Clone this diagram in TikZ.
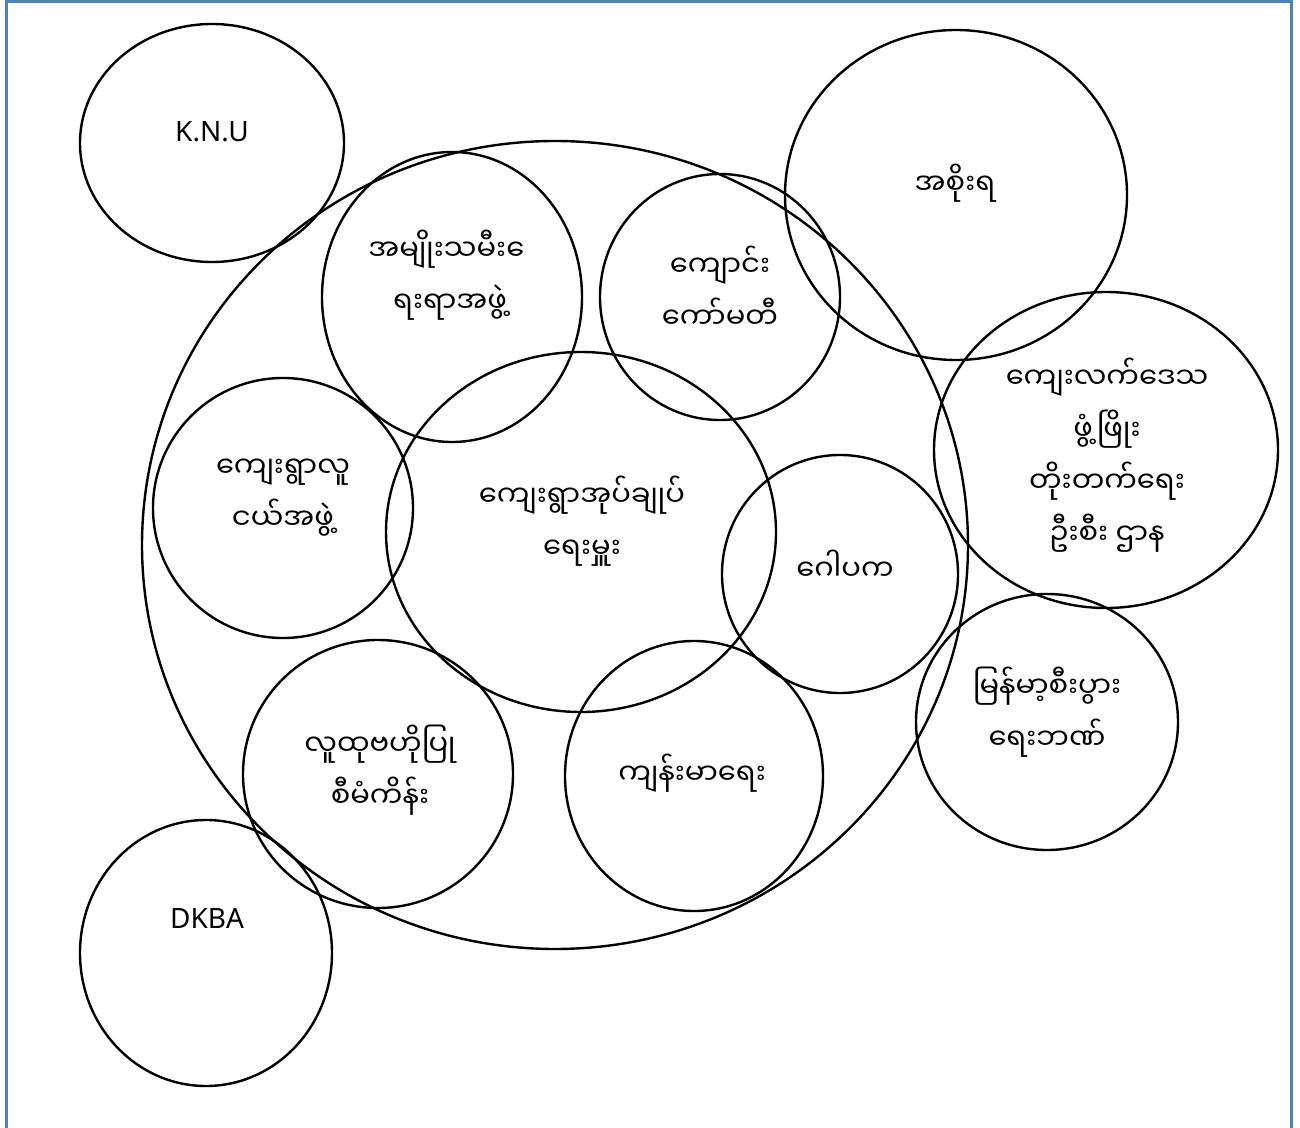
\documentclass[tikz,border=0pt]{standalone}
\usepackage{fontspec}
\setmainfont{Noto Sans}
\newfontfamily\mmfont[Script=Myanmar]{Noto Sans Myanmar UI}
\usetikzlibrary{shapes.geometric}
\definecolor{frameblue}{RGB}{79,129,189}

\begin{document}
\begin{tikzpicture}[
    x=0.5pt, y=-0.5pt,
    ring/.style 2 args={ellipse, draw, line width=1.2pt, inner sep=0pt,
        minimum width = #1pt, minimum height = #2pt},
    mm/.style={font=\mmfont\fontsize{14.5pt}{26pt}\selectfont, align=center, inner sep=0pt},
    latin/.style={font=\fontsize{14pt}{17pt}\selectfont, inner sep=0pt}
]
    \useasboundingbox (0,0) rectangle (1300,1128);

    % Frame ------------------------------------------------------

    \draw[frameblue, line width=1.5pt] (6,1130) -- (6,1.5) -- (1291,1.5) -- (1291,1130);

    % Rings ------------------------------------------------------

    \node[ring={132}{119}] (knu) at (212,143) {};
    \node[ring={413}{404}] (tract) at (555,545) {};
    \node[ring={130}{145}] (women) at (452,297) {};
    \node[ring={120}{123}] (school) at (720,297) {};
    \node[ring={171}{165}] (govt) at (956,195) {};
    \node[ring={172}{158}] (rural) at (1106,450) {};
    \node[ring={195}{180}] (head) at (581,532) {};
    \node[ring={130}{130}] (youth) at (283,508) {};
    \node[ring={118}{119}] (gopaka) at (840,574) {};
    \node[ring={131}{128}] (bank) at (1047,722) {};
    \node[ring={135}{134}] (cdd) at (378,774) {};
    \node[ring={129}{135}] (health) at (694,776) {};
    \node[ring={126}{133}] (dkba) at (206,953) {};

    % labels
    \node[latin] (knu_label) at (212,132) {K.N.U};
    \node[mm] (govt_label) at (955,183) {အစိုးရ};
    \node[mm] (women_label) at (450,275) {အမျိုးသမီး\char"00A0 ေ\\ရးရာအဖွဲ့};
    \node[mm] (school_label) at (720,287) {ကျောင်း\\ကော်မတီ};
    \node[mm] (head_label) at (582,521) {ကျေးရွာအုပ်ချုပ်\\ရေးမှူး};
    \node[mm] (youth_label) at (283,498) {ကျေးရွာလူ\\ငယ်အဖွဲ့};
    \node[mm] (gopaka_label) at (845,565) {ဂေါပက};
    \node[mm] (rural_label) at (1107,455) {ကျေးလက်ဒေသ\\ဖွံ့ဖြိုး\\တိုးတက်ရေး\\ဦးစီး ဌာန};
    \node[mm] (bank_label) at (1047,712) {မြန်မာ့စီးပွား\\ရေးဘဏ်};
    \node[mm] (cdd_label) at (380,770) {လူထုဗဟိုပြု\\စီမံကိန်း};
    \node[mm] (health_label) at (692,773) {ကျန်းမာရေး};
    \node[latin] (dkba_label) at (207,918) {DKBA};

\end{tikzpicture}
\end{document}
